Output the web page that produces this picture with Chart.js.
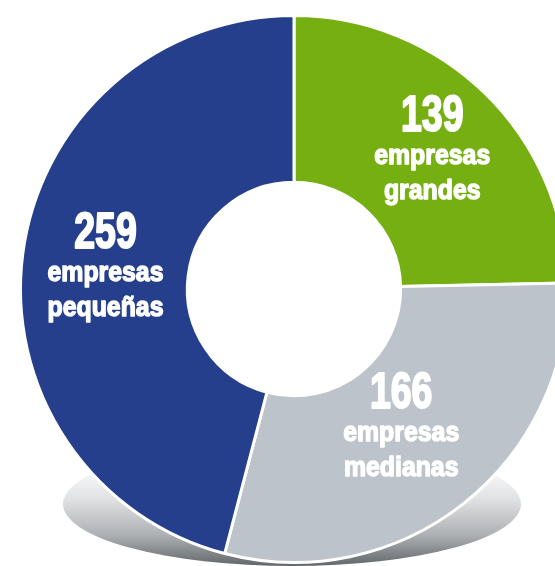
<!DOCTYPE html>
<html>
<head>
<meta charset="utf-8">
<script src="https://cdn.jsdelivr.net/npm/chart.js@4"></script>
<style>
    html, body { margin: 0; padding: 0; background: #ffffff; }
    #wrap { width: 555px; height: 566px; overflow: hidden; position: relative; }
    #empresasChart { position: absolute; left: 0; top: 0; }
</style>
</head>
<body>
<div id="wrap">
    <canvas id="empresasChart" width="588" height="578"></canvas>
</div>
<script>
// Empresas por tamaño
const categorias = ['empresas grandes', 'empresas medianas', 'empresas pequeñas'];
const lineas = [['empresas', 'grandes'], ['empresas', 'medianas'], ['empresas', 'pequeñas']];
const valores = [139, 166, 259];
const colores = ['#75af12', '#bcc3ca', '#253f8d'];
// posición radial de cada etiqueta (fracción del radio medio)
const radioEtiqueta = [1.04, 0.91, 1.0];

// Sombra elíptica bajo el anillo
const sombra = {
    id: 'sombra',
    beforeDatasetsDraw(chart) {
        const ctx = chart.ctx;
        const cx = 292, cy = 504, rx = 229, ry = 62;
        const grad = ctx.createLinearGradient(0, cy - ry + 20, 0, cy + ry);
        grad.addColorStop(0, '#ffffff');
        grad.addColorStop(0.35, '#e1e2e4');
        grad.addColorStop(0.7, '#aeb1b4');
        grad.addColorStop(1, '#62676b');
        ctx.save();
        ctx.beginPath();
        ctx.ellipse(cx, cy, rx, ry, 0, 0, Math.PI * 2);
        ctx.fillStyle = grad;
        ctx.fill();
        ctx.restore();
    }
};

// Texto condensado y grueso en blanco dentro de cada sector
function textoCondensado(ctx, txt, x, y, size, escala, grosor) {
    ctx.save();
    ctx.font = 'bold ' + size + 'px "Liberation Sans", Arial, sans-serif';
    ctx.translate(x, y);
    ctx.scale(escala, 1.04);
    ctx.lineWidth = grosor;
    ctx.lineJoin = 'round';
    ctx.strokeText(txt, 0, 0);
    ctx.fillText(txt, 0, 0);
    ctx.restore();
}

const etiquetas = {
    id: 'etiquetas',
    afterDatasetsDraw(chart) {
        const ctx = chart.ctx;
        const meta = chart.getDatasetMeta(0);
        ctx.save();
        ctx.fillStyle = '#ffffff';
        ctx.strokeStyle = '#ffffff';
        ctx.textAlign = 'center';
        ctx.textBaseline = 'alphabetic';
        meta.data.forEach((arc, i) => {
            const p = arc.getProps(['x', 'y', 'startAngle', 'endAngle', 'innerRadius', 'outerRadius'], true);
            const ang = (p.startAngle + p.endAngle) / 2;
            const r = (p.innerRadius + p.outerRadius) / 2 * radioEtiqueta[i];
            const cx = p.x + Math.cos(ang) * r;
            const cy = p.y + Math.sin(ang) * r;
            textoCondensado(ctx, String(valores[i]), cx, cy - 17, 48, 0.78, 2);
            textoCondensado(ctx, lineas[i][0], cx, cy + 16, 27, 0.92, 1.4);
            textoCondensado(ctx, lineas[i][1], cx, cy + 51, 27, 0.92, 1.4);
        });
        ctx.restore();
    }
};

new Chart(document.getElementById('empresasChart'), {
    type: 'doughnut',
    data: {
        labels: categorias,
        datasets: [{
            data: valores,
            backgroundColor: colores,
            borderColor: '#ffffff',
            borderWidth: 3,
            hoverOffset: 0
        }]
    },
    options: {
        responsive: false,
        animation: false,
        cutout: '39%',
        layout: { padding: { left: 19, right: 19, top: 14, bottom: 14 } },
        plugins: {
            legend: { display: false },
            tooltip: { enabled: false }
        }
    },
    plugins: [sombra, etiquetas]
});
</script>
</body>
</html>
